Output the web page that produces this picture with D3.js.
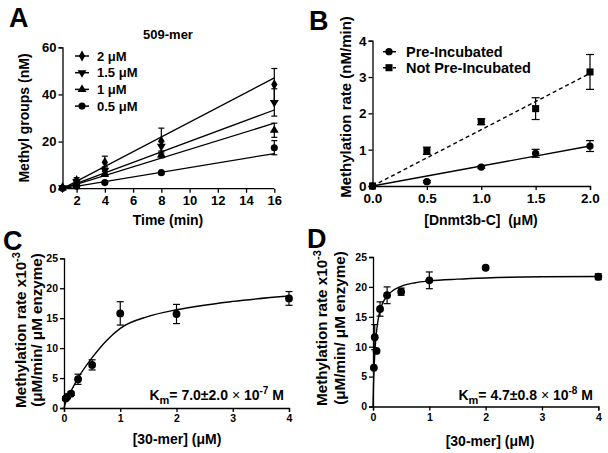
<!DOCTYPE html>
<html><head><meta charset="utf-8">
<script src="https://cdn.jsdelivr.net/npm/d3@7"></script>
<style>
body{margin:0;background:#fff;}
svg{font-family:"Liberation Sans",Arial,sans-serif;font-weight:bold;}
.tick text{font-weight:bold;fill:#000;}
</style></head>
<body>
<svg id="c" width="608" height="453"></svg>
<script>
// ---------- Panel A data ----------
const timeA = [1, 2, 4, 8, 16];
const seriesA = ["2 μM", "1.5 μM", "1 μM", "0.5 μM"];
const valA2 = [0.5, 3.5, 11.2, 20.2, 44.2];
const errA2 = [0, 1.2, 2.6, 5.5, 6.8];
const valA15 = [0.4, 3.0, 7.8, 18.0, 36.6];
const errA15 = [0, 1.0, 1.5, 2.0, 5.8];
const valA1 = [0.3, 2.2, 6.2, 14.3, 24.8];
const errA1 = [0, 0.8, 1.0, 1.2, 3.0];
const valA05 = [0.2, 1.0, 2.6, 6.8, 17.4];
const errA05 = [0, 0.4, 0.5, 0.5, 3.0];
const fitA_t = [1, 16];
const fitA_end = [47.0, 33.4, 27.8, 14.9];
const ticksAx = [2, 4, 6, 8, 10, 12, 14, 16];
const ticksAy = [0, 20, 40, 60];

// ---------- Panel B data ----------
const concB = [0, 0.5, 1.0, 1.5, 2.0];
const seriesB = ["Pre-Incubated", "Not Pre-Incubated"];
const valBpre = [0, 0.12, 0.52, 0.90, 1.10];
const errBpre = [0, 0.03, 0.03, 0.11, 0.15];
const valBnot = [0, 0.97, 1.77, 2.13, 3.14];
const errBnot = [0, 0.10, 0.08, 0.30, 0.48];
const fitB_end = [1.10, 3.10];
const ticksBx = [0, 0.5, 1.0, 1.5, 2.0];
const ticksBy = [0, 1, 2, 3, 4];

// ---------- Panel C data ----------
const concC = [0.031, 0.0625, 0.125, 0.25, 0.5, 1, 2, 4];
const valC = [1.6, 1.9, 2.4, 4.8, 7.2, 15.8, 15.7, 18.3];
const errC = [0.3, 0.3, 0.3, 0.85, 0.85, 1.95, 1.6, 1.15];
const curveCx = [0, 0.05, 0.1, 0.25, 0.5, 0.75, 1, 1.5, 2, 3, 4];
const curveCy = [0, 1.5, 2.4, 5.0, 8.4, 11.2, 13.3, 15.3, 16.4, 17.8, 18.7];

// ---------- Panel D data ----------
const concD = [0.0156, 0.031, 0.0625, 0.125, 0.25, 0.5, 1, 2, 4];
const valD = [6.5, 11.6, 9.3, 16.3, 18.6, 19.2, 21.1, 23.2, 21.7];
const errD = [0, 2.1, 0, 1.2, 1.4, 0.6, 1.4, 0, 0.5];
const curveDx = [0, 0.005, 0.01, 0.02, 0.03, 0.05, 0.075, 0.1, 0.15, 0.2, 0.3, 0.5, 0.75, 1, 1.5, 2, 3, 4];
const curveDy = [0, 2.1, 3.9, 6.6, 8.6, 11.3, 13.5, 15.0, 16.8, 17.8, 19.0, 20.1, 20.7, 21.0, 21.3, 21.5, 21.7, 21.75];
const ticksCDx = [0, 1, 2, 3, 4];
const ticksCDy = [0, 5, 10, 15, 20, 25];

const svg = d3.select("#c");

function axes(g, x, y, xt, yt, fs, xfmt) {
  const xa = d3.axisBottom(x).tickValues(xt).tickSizeOuter(0).tickSize(4).tickPadding(3).tickFormat(xfmt || d3.format("d"));
  const ya = d3.axisLeft(y).tickValues(yt).tickSizeOuter(0).tickSize(4).tickPadding(2).tickFormat(d3.format("d"));
  const gx = g.append("g").attr("transform", `translate(0,${y.range()[0]})`).call(xa);
  const gy = g.append("g").attr("transform", `translate(${x.range()[0]},0)`).call(ya);
  [gx, gy].forEach(a => {
    a.selectAll("text").style("font-size", fs + "px").style("font-family", "Liberation Sans, Arial, sans-serif");
    a.selectAll("path,line").attr("stroke", "#000").attr("stroke-width", 1.3);
  });
  return {gx, gy};
}

function sym(type, size) {
  const t = {circle: d3.symbolCircle, diamond: d3.symbolDiamond, square: d3.symbolSquare,
    triangle: d3.symbolTriangle}[type === "tdown" ? "triangle" : type];
  return d3.symbol().type(t).size(size)();
}

function drawPoints(g, x, y, xs, vs, es, type, size, cap) {
  xs.forEach((xv, i) => {
    if (es && es[i] > 0) {
      const px = x(xv), y1 = y(vs[i] - es[i]), y2 = y(vs[i] + es[i]);
      g.append("line").attr("x1", px).attr("x2", px).attr("y1", y1).attr("y2", y2).attr("stroke", "#000").attr("stroke-width", 1.2);
      [y1, y2].forEach(yy => g.append("line").attr("x1", px - cap).attr("x2", px + cap).attr("y1", yy).attr("y2", yy).attr("stroke", "#000").attr("stroke-width", 1.2));
    }
    g.append("path").attr("d", sym(type, size))
      .attr("transform", `translate(${x(xv)},${y(vs[i])})` + (type === "tdown" ? " rotate(180)" : ""))
      .attr("fill", "#000");
  });
}

function label(text, x, y, fs, rot, anchor) {
  const t = svg.append("text").attr("x", x).attr("y", y).attr("font-size", fs)
    .attr("text-anchor", anchor || "middle").attr("fill", "#000");
  if (rot) t.attr("transform", `rotate(-90,${x},${y})`);
  t.text(text);
  return t;
}

// ================= Panel A =================
{
  const x = d3.scaleLinear().domain([1, 16]).range([62.5, 274.3]);
  const y = d3.scaleLinear().domain([0, 60]).range([188.7, 47.3]);
  const g = svg.append("g");
  const ax = axes(g, x, y, ticksAx, ticksAy, 13);
  ax.gx.select(".domain").attr("d", `M${x(1) - 1.5},0H${x(16)}`);
  const vals = [valA2, valA15, valA1, valA05];
  const errs = [errA2, errA15, errA1, errA05];
  const types = ["diamond", "tdown", "triangle", "circle"];
  const sizes = [34, 34, 34, 40];
  const line = d3.line().x(d => x(d[0])).y(d => y(d[1]));
  fitA_end.forEach(e => g.append("path").attr("d", line([[fitA_t[0], 0], [fitA_t[1], e]])).attr("stroke", "#000").attr("stroke-width", 1.3).attr("fill", "none"));
  vals.forEach((v, i) => drawPoints(g, x, y, timeA, v, errs[i], types[i], sizes[i], 3));
  seriesA.forEach((s, i) => {
    const yy = 56 + i * 16.7;
    g.append("line").attr("x1", 75).attr("x2", 89).attr("y1", yy).attr("y2", yy).attr("stroke", "#000").attr("stroke-width", 1.5);
    g.append("path").attr("d", sym(types[i], sizes[i])).attr("transform", `translate(82,${yy})` + (types[i] === "tdown" ? " rotate(180)" : "")).attr("fill", "#000");
    label(s, 97, yy + 4.5, 13, false, "start");
  });
  label("509-mer", 168, 39, 13);
  label("Methyl groups (nM)", 29, 118, 14, true);
  label("Time (min)", 168, 225, 14);
  label("A", 9, 27, 27, false, "start");
}

// ================= Panel B =================
{
  const x = d3.scaleLinear().domain([0, 2]).range([372.5, 590]);
  const y = d3.scaleLinear().domain([0, 4]).range([186, 40.7]);
  const g = svg.append("g");
  axes(g, x, y, ticksBx, ticksBy, 13.5, d3.format(".1f"));
  const line = d3.line().x(d => x(d[0])).y(d => y(d[1]));
  g.append("path").attr("d", line([[0, 0], [2, fitB_end[0]]])).attr("stroke", "#000").attr("stroke-width", 1.4).attr("fill", "none");
  g.append("path").attr("d", line([[0, 0], [2, fitB_end[1]]])).attr("stroke", "#000").attr("stroke-width", 1.4).attr("stroke-dasharray", "4,3").attr("fill", "none");
  drawPoints(g, x, y, concB, valBnot, errBnot, "square", 50, 4);
  drawPoints(g, x, y, concB, valBpre, errBpre, "circle", 42, 4);
  const types = ["circle", "square"];
  seriesB.forEach((s, i) => {
    const yy = 51.7 + i * 16;
    const l = g.append("line").attr("x1", 383).attr("x2", 396).attr("y1", yy).attr("y2", yy).attr("stroke", "#000").attr("stroke-width", 1.5);
    if (i === 1) l.attr("stroke-dasharray", "3,2");
    g.append("path").attr("d", sym(types[i], i ? 50 : 42)).attr("transform", `translate(389,${yy})`).attr("fill", "#000");
    label(s, 406, yy + 5, 14.5, false, "start");
  });
  label("Methylation rate (nM/min)", 351, 107, 15, true);
  label("[Dnmt3b-C]\u00a0 (μM)", 481, 225, 14);
  label("B", 309, 30, 27, false, "start");
}

function kmLabel(x, y, mant, exp) {
  const t = svg.append("text").attr("x", x).attr("y", y).attr("font-size", 14).attr("text-anchor", "end").attr("fill", "#000");
  t.append("tspan").text("K");
  t.append("tspan").attr("dy", 4).attr("font-size", 11).text("m");
  t.append("tspan").attr("dy", -4).text("= " + mant + " ");
  t.append("tspan").attr("font-weight", "normal").text("×");
  t.append("tspan").text(" 10");
  t.append("tspan").attr("dy", -6).attr("font-size", 10).text(exp);
  t.append("tspan").attr("dy", 6).text(" M");
}

function ylabel2(xc1, xc2, yc) {
  const t1 = svg.append("text").attr("transform", `translate(${xc1},${yc}) rotate(-90)`).attr("font-size", 15.2).attr("text-anchor", "middle").attr("fill", "#000");
  t1.append("tspan").text("Methylation rate x10");
  t1.append("tspan").attr("dy", -6).attr("font-size", 11).text("-3");
  const t2 = svg.append("text").attr("transform", `translate(${xc2},${yc}) rotate(-90)`).attr("font-size", 15.2).attr("text-anchor", "middle").attr("fill", "#000");
  t2.text("(μM/min/ μM enzyme)");
}

// ================= Panel C =================
{
  const x = d3.scaleLinear().domain([0, 4]).range([64, 289]);
  const y = d3.scaleLinear().domain([0, 25]).range([408, 258.3]);
  const g = svg.append("g");
  axes(g, x, y, ticksCDx, ticksCDy, 10.5);
  const line = d3.line().x(d => x(d[0])).y(d => y(d[1])).curve(d3.curveMonotoneX);
  g.append("path").attr("d", line(curveCx.map((v, i) => [v, curveCy[i]]))).attr("stroke", "#000").attr("stroke-width", 1.4).attr("fill", "none");
  drawPoints(g, x, y, concC, valC, errC, "circle", 48, 3.5);
  kmLabel(284, 400, "7.0±2.0", "-7");
  ylabel2(26, 42, 330);
  label("[30-mer] (μM)", 177, 444, 14);
  label("C", 3, 250, 27, false, "start");
}

// ================= Panel D =================
{
  const x = d3.scaleLinear().domain([0, 4]).range([373, 598.3]);
  const y = d3.scaleLinear().domain([0, 25]).range([406.5, 257]);
  const g = svg.append("g");
  axes(g, x, y, ticksCDx, ticksCDy, 10.5);
  const line = d3.line().x(d => x(d[0])).y(d => y(d[1])).curve(d3.curveMonotoneX);
  g.append("path").attr("d", line(curveDx.map((v, i) => [v, curveDy[i]]))).attr("stroke", "#000").attr("stroke-width", 1.4).attr("fill", "none");
  drawPoints(g, x, y, concD, valD, errD, "circle", 48, 3.5);
  kmLabel(593, 400, "4.7±0.8", "-8");
  ylabel2(327, 345, 328);
  label("[30-mer] (μM)", 490, 446, 14);
  label("D", 307, 248, 27, false, "start");
}
</script>
</body></html>
